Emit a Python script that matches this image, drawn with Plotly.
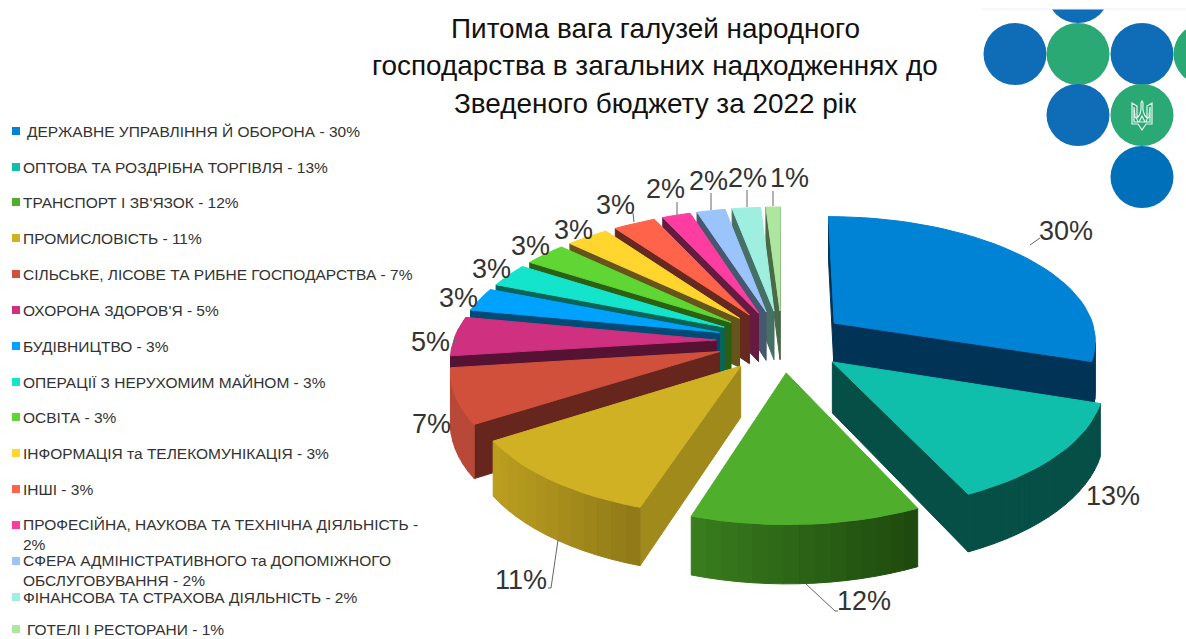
import math
import plotly.graph_objects as go

# ---------- data ----------
categories = [
    " ДЕРЖАВНЕ УПРАВЛІННЯ Й ОБОРОНА", "ОПТОВА ТА РОЗДРІБНА ТОРГІВЛЯ", "ТРАНСПОРТ І ЗВ'ЯЗОК",
    "ПРОМИСЛОВІСТЬ", "СІЛЬСЬКЕ, ЛІСОВЕ ТА РИБНЕ ГОСПОДАРСТВА", "ОХОРОНА ЗДОРОВ'Я", "БУДІВНИЦТВО",
    "ОПЕРАЦІЇ З НЕРУХОМИМ МАЙНОМ", "ОСВІТА", "ІНФОРМАЦІЯ та ТЕЛЕКОМУНІКАЦІЯ", "ІНШІ",
    "ПРОФЕСІЙНА, НАУКОВА ТА ТЕХНІЧНА ДІЯЛЬНІСТЬ", "СФЕРА АДМІНІСТРАТИВНОГО та ДОПОМІЖНОГО<br>ОБСЛУГОВУВАННЯ",
    "ФІНАНСОВА ТА СТРАХОВА ДІЯЛЬНІСТЬ", " ГОТЕЛІ І РЕСТОРАНИ",
]
shares = [30, 13, 12, 11, 7, 5, 3, 3, 3, 3, 3, 2, 2, 2, 1]
top_colors = ["#0082D5", "#10BFAB", "#4FAF2C", "#CFB123", "#D0503C", "#CF3080", "#00A2FF", "#14E4CC",
              "#5FD633", "#FFD52E", "#FF6349", "#FF3DA0", "#9BC4FC", "#9FEFE0", "#AEE6A0"]
edge_colors = ["#003355", "#064F47", "#2B5E17", "#A08A1B", "#66261D", "#551233", "#004A73", "#0A6458",
               "#2A5F14", "#66551A", "#662920", "#661A40", "#46586F", "#466F66", "#4A6A46"]
rim_left = ["#003355", "#064F47", "#3A7F1E", "#BDA020", "#B84837", "#B02A6C", "#004A73", "#0A6458",
            "#2A5F14", "#66551A", "#662920", "#661A40", "#46586F", "#466F66", "#4A6A46"]
rim_right = ["#003355", "#064F47", "#1F4A0E", "#917A18", "#B84837", "#B02A6C", "#004A73", "#0A6458",
             "#2A5F14", "#66551A", "#662920", "#661A40", "#46586F", "#466F66", "#4A6A46"]
title_lines = ["Питома вага галузей народного", "господарства в загальних надходженнях до",
               "Зведеного бюджету за 2022 рік"]

# ---------- projection ----------
CX, CY, RX, RY, H, D, EXPLODE = 782, 341, 263, 124, 50, 8.0, 0.25


def project(x, y, z=0.0):
    s = D / (D - y)
    return CX + RX * x * s, CY + RY * y * s - z * H * s


def hex_rgb(c):
    return tuple(int(c[i:i + 2], 16) for i in (1, 3, 5))


def lerp(a, b, t):
    ra, rb = hex_rgb(a), hex_rgb(b)
    return "#%02X%02X%02X" % tuple(round(p + (q - p) * t) for p, q in zip(ra, rb))


def area(pts):
    return sum(pts[i][0] * pts[(i + 1) % len(pts)][1] - pts[(i + 1) % len(pts)][0] * pts[i][1]
               for i in range(len(pts))) / 2


fig = go.Figure()


def face(pts, color):
    fig.add_trace(go.Scatter(x=[p[0] for p in pts] + [pts[0][0]], y=[p[1] for p in pts] + [pts[0][1]],
                             mode="lines", fill="toself", fillcolor=color,
                             line=dict(color=color, width=1), hoverinfo="skip", showlegend=False))


total = sum(shares)
bounds = [0]
for v in shares:
    bounds.append(bounds[-1] + v / total * 2 * math.pi)

# back-to-front drawing order
order = [14, 13, 12, 11, 10, 9, 8, 7, 6, 5, 4, 3, 0, 1, 2]

for i in order:
    a0, a1 = bounds[i], bounds[i + 1]
    mid = (a0 + a1) / 2
    ox, oy = EXPLODE * math.sin(mid), -EXPLODE * math.cos(mid)
    n = max(4, int((a1 - a0) / 0.05))
    angs = [a0 + (a1 - a0) * k / n for k in range(n + 1)]
    rim = [(ox + math.sin(a), oy - math.cos(a)) for a in angs]

    # radial walls, only when they face the viewer
    for is_end, (ax, ay) in ((False, rim[0]), (True, rim[-1])):
        quad = [project(ox, oy), project(ax, ay), project(ax, ay, -1), project(ox, oy, -1)]
        facing = area(quad) if is_end else -area(quad)
        if facing > 0:
            face(quad, edge_colors[i])
    # outer wall strips
    pts_all = [project(*p) for p in rim]
    xs = [t[0] for t in pts_all]
    for k in range(n):
        p, q = rim[k], rim[k + 1]
        quad = [project(*p), project(*q), project(*q, -1), project(*p, -1)]
        if area(quad) < 0:
            x_frac = (pts_all[k][0] - min(xs)) / (max(xs) - min(xs))
            face(quad, lerp(rim_left[i], rim_right[i], x_frac))
    # top
    face([project(ox, oy)] + pts_all, top_colors[i])

# ---------- leader lines ----------
leaders = [[(1030, 245), (1040, 238)], [(806, 584), (835, 611), (838, 611)], [(558, 540), (551, 588), (548, 588)],
           [(455, 337), (453, 350)], [(633, 213), (634, 222)], [(677, 202), (677, 215)], [(711, 193), (711, 210)],
           [(747, 190), (747, 207)], [(773, 191), (773, 206)]]
lx, ly = [], []
for seg in leaders:
    lx += [p[0] for p in seg] + [None]
    ly += [p[1] for p in seg] + [None]
fig.add_trace(go.Scatter(x=lx, y=ly, mode="lines", line=dict(color="#666666", width=1), hoverinfo="skip", showlegend=False))

# ---------- legend squares ----------
legend_y = [131, 167, 202, 238, 274, 310, 346, 382, 417, 453, 489, 525, 561, 597, 629]
fig.add_trace(go.Scatter(x=[16] * len(shares), y=legend_y, mode="markers",
                         marker=dict(symbol="square", size=8, color=top_colors, line=dict(width=0)),
                         hoverinfo="skip", showlegend=False))

annotations = []


def text(x, y, s, size, anchor="center", color="#333333", valign="middle"):
    annotations.append(dict(x=x, y=y, xref="x", yref="y", text=s, showarrow=False, xanchor=anchor, yanchor=valign,
                            align="left", font=dict(family="Liberation Sans", size=size, color=color)))


for i, (c, v) in enumerate(zip(categories, shares)):
    label = f"{c} - {v}%"
    if i == 11:
        label = f"{c} -<br>{v}%"
    text(21 if not c.startswith(" ") else 25, legend_y[i] + (9 if "<br>" in label else 0), label.strip(), 15.5, anchor="left")

label_pos = [(1066, 231), (1113, 496), (864, 601), (521, 580), (431, 424), (430, 342), (458, 298), (491, 269),
             (530, 246), (573, 230), (615, 205), (665, 189), (708, 181), (747, 178), (789, 178)]
for (x, y), v in zip(label_pos, shares):
    text(x, y, f"{v}%", 27)

title_y = [28, 65, 103]
for y, s in zip(title_y, title_lines):
    text(655, y, s, 27.9, color="#111111")

# ---------- logo ----------
BLUE, GREEN = "#0F6DB7", "#2BA975"
logo = [(1078, -8, BLUE), (1015, 54, BLUE), (1078, 54, GREEN), (1142, 54, BLUE), (1205, 54, GREEN),
        (1078, 115, BLUE), (1142, 115, GREEN), (1142, 177, "#0070BA")]
shapes = []
for x, y, c in logo:
    shapes.append(dict(type="circle", xref="x", yref="y", x0=x - 31.5, x1=x + 31.5, y0=y - 31, y1=y + 31,
                       fillcolor=c, line=dict(width=0), layer="below"))
shapes.append(dict(type="rect", xref="x", yref="y", x0=982, x1=1186, y0=-5, y1=9, fillcolor="white",
                   line=dict(width=0), layer="below"))
shapes.append(dict(type="line", xref="x", yref="y", x0=982, x1=1186, y0=9, y1=9,
                   line=dict(color="#EEF1F6", width=1), layer="below"))
trident = ("M1132,103 L1137,106 L1137,118 Q1142,114 1141,103 L1142,101 L1143,103 Q1142,114 1147,118 L1147,106 L1152,103 "
           "L1152,124 L1146,124 L1142,130 L1138,124 L1132,124 Z "
           "M1134,107 L1134,122 L1138,122 Q1137,118 1135,117 Z M1150,107 L1150,122 L1146,122 Q1147,118 1149,117 Z "
           "M1139,122 L1145,122 L1142,116 Z")
shapes.append(dict(type="path", xref="x", yref="y", path=trident, fillcolor="rgba(0,0,0,0)",
                   line=dict(color="#E8F5EF", width=1.2), layer="above"))

fig.update_layout(
    width=1186, height=639, margin=dict(l=0, r=0, t=0, b=0), paper_bgcolor="white", plot_bgcolor="white",
    xaxis=dict(range=[0, 1186], visible=False, fixedrange=True),
    yaxis=dict(range=[639, 0], visible=False, fixedrange=True),
    annotations=annotations, shapes=shapes, showlegend=False,
)
fig.write_html("out.html", config=dict(displayModeBar=False),
               post_script="document.body.style.margin='0';document.documentElement.style.overflow='hidden';")
